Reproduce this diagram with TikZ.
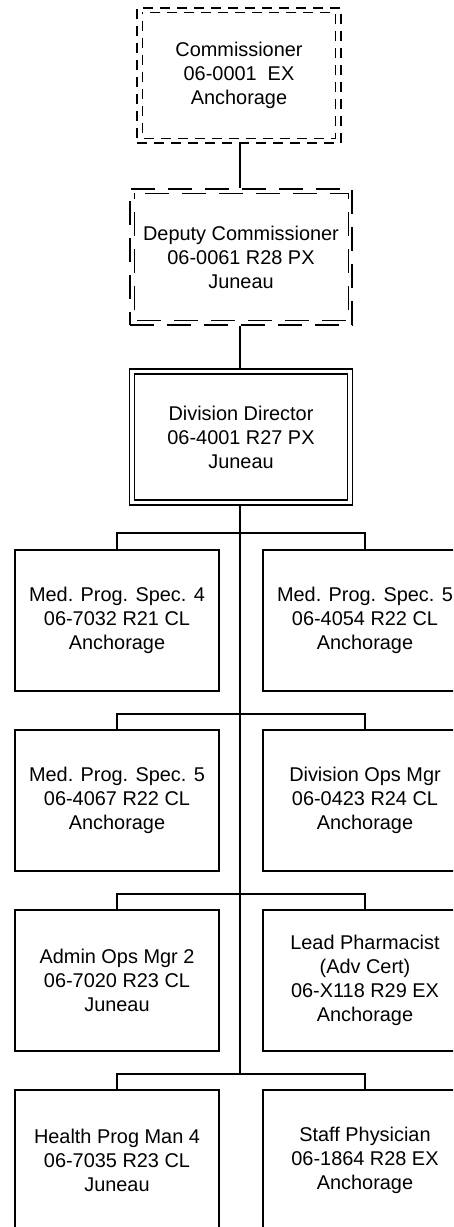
\documentclass[tikz,border=0pt]{standalone}
\usepackage{fontspec}
\setmainfont{Liberation Sans}
\begin{document}
\begin{tikzpicture}[x=1pt,y=-1pt,
  every node/.style={font=\fontsize{19.9}{24}\selectfont, align=center, inner sep=0pt},
  conn/.style={line width=2pt},
  posbox/.style={draw, line width=1.3pt, minimum width=204pt, minimum height=141pt, fill=white},
  topbox/.style={draw, line width=1.3pt, double, double distance=3.7pt, outer sep=2.5pt, minimum height=131pt},
  dashA/.style={line width=1.1pt, dash pattern=on 10pt off 7pt},
  dashB/.style={line width=1.1pt, dash pattern=on 24pt off 13pt}]
\useasboundingbox (0,0) rectangle (453,1227);
\clip (0,0) rectangle (453,1227);
\fill[white] (0,0) rectangle (453,1227);
% top chain
\node[draw, dashA, minimum width=204pt, minimum height=135pt] (com) at (239,75.5) {Commissioner\\06-0001\ \ EX\\Anchorage};
\draw[dashA, dash phase=8.5pt] ([xshift=6pt,yshift=-5pt]com.north west) rectangle ([xshift=-6pt,yshift=5pt]com.south east);
\node[draw, dashB, minimum width=222pt, minimum height=136pt] (dep) at (241,257) {Deputy Commissioner\\06-0061 R28 PX\\Juneau};
\draw[dashB, dash phase=18pt] ([xshift=5pt,yshift=-5pt]dep.north west) rectangle ([xshift=-4pt,yshift=5pt]dep.south east);
\node[topbox, minimum width=217.5pt] (dir) at (241,437) {Division Director\\06-4001 R27 PX\\Juneau};
% bars
\coordinate (b1) at (240,533);
\coordinate (b2) at (240,713.5);
\coordinate (b3) at (240,893.5);
\coordinate (b4) at (240,1073.5);
% boxes
\node[posbox] (a1) at (117,620.5) {Med. Prog. Spec. 4\\06-7032 R21 CL\\Anchorage};
\node[posbox] (a2) at (365,620.5) {Med. Prog. Spec. 5\\06-4054 R22 CL\\Anchorage};
\node[posbox] (c1) at (117,800.5) {Med. Prog. Spec. 5\\06-4067 R22 CL\\Anchorage};
\node[posbox] (c2) at (365,800.5) {Division Ops Mgr\\06-0423 R24 CL\\Anchorage};
\node[posbox] (d1) at (117,980.5) {Admin Ops Mgr 2\\06-7020 R23 CL\\Juneau};
\node[posbox] (d2) at (365,980.5) {Lead Pharmacist\\(Adv Cert)\\06-X118 R29 EX\\Anchorage};
\node[posbox] (e1) at (117,1160.5) {Health Prog Man 4\\06-7035 R23 CL\\Juneau};
\node[posbox] (e2) at (365,1160.5) {Staff Physician\\06-1864 R28 EX\\Anchorage};
% connectors
\draw[conn] (b1 |- com.south) -- (b1 |- dep.north);
\draw[conn] (b1 |- dep.south) -- (b1 |- dir.north);
\draw[conn] (b1 |- dir.south) -- (b4);
\draw[conn] (a1.north) |- (b1) -| (a2.north);
\draw[conn] (c1.north) |- (b2) -| (c2.north);
\draw[conn] (d1.north) |- (b3) -| (d2.north);
\draw[conn] (e1.north) |- (b4) -| (e2.north);
\end{tikzpicture}
\end{document}
